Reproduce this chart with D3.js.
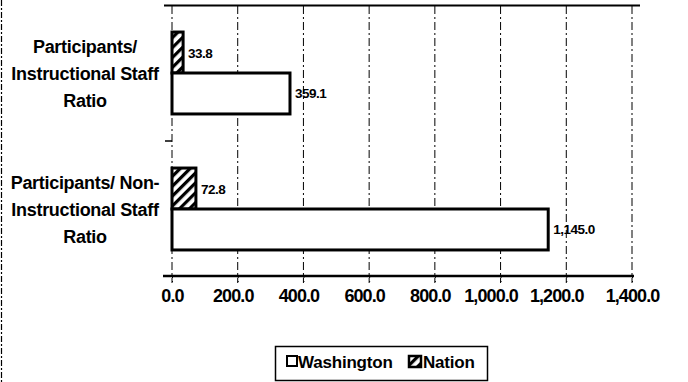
<!DOCTYPE html>
<html><head><meta charset="utf-8">
<script src="https://cdn.jsdelivr.net/npm/d3@7"></script>
<style>
html,body{margin:0;padding:0;background:#fff;}
svg{display:block;}
text{font-family:"Liberation Sans",Arial,sans-serif;fill:#000;}
</style></head>
<body>
<svg id="chart" width="688" height="382"></svg>
<script>
const categories = [
  ["Participants/", "Instructional Staff", "Ratio"],
  ["Participants/ Non-", "Instructional Staff", "Ratio"]
];
const categoryKeys = ["Instructional", "NonInstructional"];
const seriesNames = ["Nation", "Washington"];
const nationValues = [33.8, 72.8];
const washingtonValues = [359.1, 1145.0];
const valueLabels = { Nation: ["33.8", "72.8"], Washington: ["359.1", "1,145.0"] };
const tickValues = [0, 200, 400, 600, 800, 1000, 1200, 1400];
const legendItems = ["Washington", "Nation"];

const svg = d3.select("#chart");
const defs = svg.append("defs");
const pat = defs.append("pattern").attr("id", "hatch").attr("patternUnits", "userSpaceOnUse")
  .attr("width", 7).attr("height", 7).attr("patternTransform", "rotate(45)");
pat.append("rect").attr("width", 7).attr("height", 7).attr("fill", "#fff");
pat.append("rect").attr("x", 0).attr("width", 3.2).attr("height", 7).attr("fill", "#000");

const x = d3.scaleLinear().domain([0, 1400]).range([172, 632]);
const y0 = d3.scaleBand().domain(categoryKeys).range([5, 277]);
const y1 = d3.scaleBand().domain(seriesNames).range([0, y0.bandwidth()]).paddingOuter(0.66).paddingInner(0);

// left scan border
svg.append("line").attr("x1", 1.5).attr("x2", 1.5).attr("y1", 0).attr("y2", 382)
  .attr("stroke", "#000").attr("stroke-width", 1.2).attr("stroke-dasharray", "6,2,2,2");

// gridlines
svg.append("g").selectAll("line").data(tickValues).join("line")
  .attr("x1", d => x(d)).attr("x2", d => x(d)).attr("y1", 6).attr("y2", 283)
  .attr("stroke", "#000").attr("stroke-width", 1).attr("stroke-dasharray", "8,3,2,3");

// top border
svg.append("line").attr("x1", 164).attr("x2", 640).attr("y1", 5.5).attr("y2", 5.5)
  .attr("stroke", "#000").attr("stroke-width", 2);

// bars
const data = [];
categoryKeys.forEach((c, i) => {
  data.push({ cat: c, s: "Nation", v: nationValues[i], label: valueLabels.Nation[i] });
  data.push({ cat: c, s: "Washington", v: washingtonValues[i], label: valueLabels.Washington[i] });
});
svg.append("g").selectAll("rect").data(data).join("rect")
  .attr("x", x(0))
  .attr("y", d => y0(d.cat) + y1(d.s))
  .attr("width", d => x(d.v) - x(0))
  .attr("height", y1.bandwidth())
  .attr("fill", d => d.s === "Nation" ? "url(#hatch)" : "#fff")
  .attr("stroke", "#000").attr("stroke-width", 3);

// value labels
svg.append("g").selectAll("text").data(data).join("text")
  .attr("x", d => x(d.v) + 5)
  .attr("y", d => y0(d.cat) + y1(d.s) + y1.bandwidth() / 2 + 5)
  .attr("font-size", 13.5).attr("font-weight", "bold").attr("letter-spacing", "-0.5")
  .text(d => d.label);

// x axis
const axis = d3.axisBottom(x).tickValues(tickValues).tickSize(6)
  .tickFormat(d => d3.format(",.1f")(d));
const ga = svg.append("g").attr("transform", "translate(0,276)").call(axis);
ga.select(".domain").remove();
ga.selectAll(".tick line").attr("stroke", "#000").attr("stroke-dasharray", "2,3");
ga.selectAll(".tick text").attr("font-size", 18).attr("font-weight", "bold")
  .attr("font-family", "Liberation Sans, Arial, sans-serif").attr("letter-spacing", "-0.9")
  .attr("dy", "0").attr("y", 26).attr("x", d => d >= 1000 && d < 1400 ? -10 : (d > 0 && d < 1000 ? -5 : 0))
  .attr("fill", "#000");
svg.append("line").attr("x1", 163).attr("x2", 634).attr("y1", 276).attr("y2", 276)
  .attr("stroke", "#000").attr("stroke-width", 2.5);

// category tick marks
svg.append("line").attr("x1", 165).attr("x2", 172).attr("y1", y0.step() + 5).attr("y2", y0.step() + 5)
  .attr("stroke", "#000").attr("stroke-width", 1.5);

// category labels
const gl = svg.append("g");
categoryKeys.forEach((c, i) => {
  const cy = y0(c) + y0.bandwidth() / 2;
  gl.append("text").attr("x", 85).attr("y", cy - 27 + 7).attr("text-anchor", "middle")
    .attr("font-size", 18).attr("font-weight", "bold").attr("letter-spacing", "-0.3")
    .selectAll("tspan").data(categories[i]).join("tspan")
    .attr("x", 85).attr("dy", (d, j) => j === 0 ? 0 : 27).text(d => d);
});

// legend
const lg = svg.append("g");
lg.append("rect").attr("x", 275.5).attr("y", 346.5).attr("width", 212).attr("height", 34)
  .attr("fill", "#fff").attr("stroke", "#000").attr("stroke-width", 1.5);
lg.append("rect").attr("x", 287).attr("y", 356).attr("width", 10).attr("height", 10)
  .attr("fill", "#fff").attr("stroke", "#000").attr("stroke-width", 2);
lg.append("text").attr("x", 298).attr("y", 368).attr("font-size", 17).attr("font-weight", "bold").attr("letter-spacing", "-0.2").text(legendItems[0]);
lg.append("rect").attr("x", 409).attr("y", 356).attr("width", 12).attr("height", 11)
  .attr("fill", "url(#hatch)").attr("stroke", "#000").attr("stroke-width", 2.5);
lg.append("text").attr("x", 423).attr("y", 368).attr("font-size", 17).attr("font-weight", "bold").attr("letter-spacing", "-0.2").text(legendItems[1]);
</script>
</body></html>
